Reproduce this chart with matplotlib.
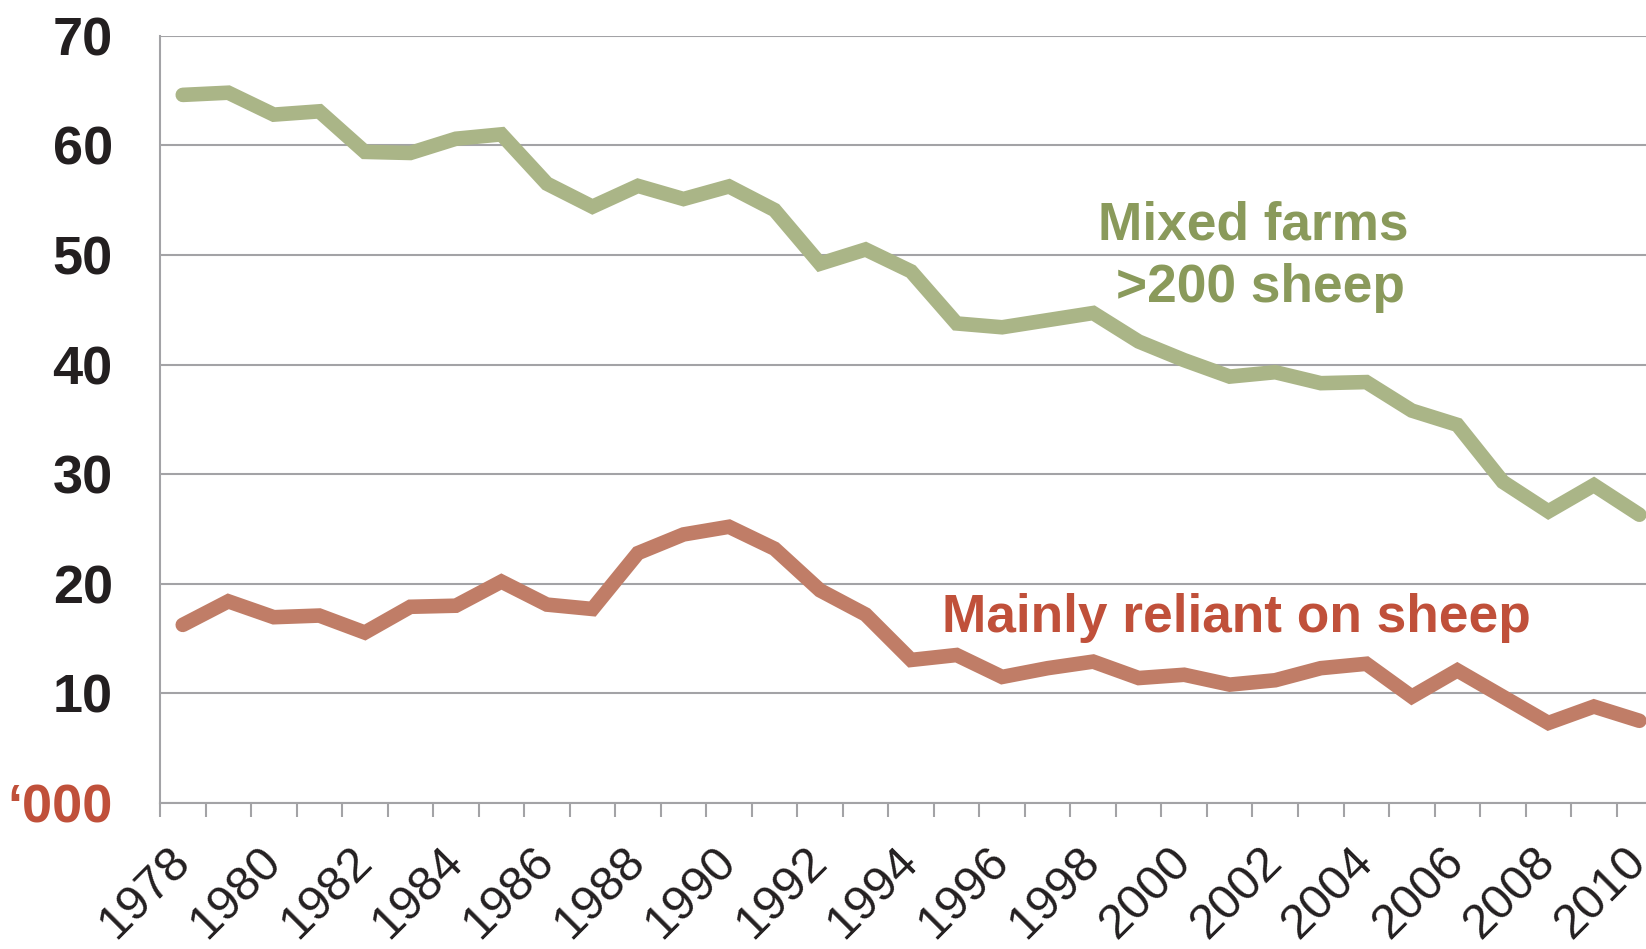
import matplotlib
matplotlib.use("Agg")
import matplotlib.pyplot as plt
import numpy as np

years = list(range(1978, 2011))
mixed_farms = [64.6, 64.8, 62.8, 63.1, 59.4, 59.3, 60.6, 61.0, 56.5, 54.4, 56.3,
               55.1, 56.25, 54.1, 49.2, 50.5, 48.5, 43.75, 43.4, 44.05, 44.7, 42.1,
               40.4, 38.9, 39.3, 38.3, 38.4, 35.8, 34.5, 29.3, 26.6, 29.0, 26.3]
mainly_sheep = [16.25, 18.4, 16.95, 17.1, 15.55, 17.9, 18.0, 20.2, 18.1, 17.7, 22.8,
                24.5, 25.2, 23.2, 19.4, 17.2, 13.05, 13.5, 11.5, 12.3, 12.9, 11.4,
                11.7, 10.8, 11.2, 12.3, 12.7, 9.7, 12.1, 9.7, 7.3, 8.8, 7.5]
y_ticks = [0, 10, 20, 30, 40, 50, 60, 70]
y_ticklabels = ["\u2018000", "10", "20", "30", "40", "50", "60", "70"]
x_labels = [str(y) for y in years[::2]]

GREEN_LINE = "#AAB587"
RED_LINE = "#C07D67"
GREEN_TXT = "#8A9A5B"
RED_TXT = "#C0503A"
GRID = "#A3A3A6"
DARK = "#231F20"

plt.rcParams['font.family'] = ['Liberation Sans', 'DejaVu Sans']

W, H = 1646, 949
fig = plt.figure(figsize=(W / 100, H / 100), dpi=100)
left = 160 / W
bottom = (H - 803) / H
width = (33 * 45.52) / W
height = (803 - 35.7) / H
ax = fig.add_axes([left, bottom, width, height])

x = np.arange(len(years))
ax.plot(x, mixed_farms, color=GREEN_LINE, lw=10.5, solid_capstyle='round',
        solid_joinstyle='miter', zorder=3, clip_on=False)
ax.plot(x, mainly_sheep, color=RED_LINE, lw=10.5, solid_capstyle='round',
        solid_joinstyle='miter', zorder=3, clip_on=False)

ax.set_xlim(-0.5, len(years) - 0.5)
ax.set_ylim(0, 70)

# y axis
ax.set_yticks(y_ticks)
ax.set_yticklabels(y_ticklabels)
ax.tick_params(axis='y', length=0, pad=34, labelsize=39, labelcolor=DARK)
for lbl in ax.get_yticklabels():
    lbl.set_fontweight('bold')
ax.get_yticklabels()[0].set_color(RED_TXT)
ax.yaxis.grid(True, color=GRID, lw=1.5, zorder=0)
ax.set_axisbelow(True)

# x axis: minor ticks at category boundaries, labels at every second category
ax.set_xticks(np.arange(-0.5, len(years), 1.0), minor=True)
ax.set_xticks(x[::2])
ax.set_xticklabels(x_labels)
ax.tick_params(axis='x', which='minor', length=10, width=1.5, color=GRID, direction='out')
ax.tick_params(axis='x', which='major', length=0, pad=37, labelsize=35, labelcolor=DARK)
for lbl in ax.get_xticklabels():
    lbl.set_rotation(45)
    lbl.set_ha('right')
    lbl.set_va('center')
    lbl.set_rotation_mode('anchor')

for s in ['top', 'right']:
    ax.spines[s].set_visible(False)
for s in ['left', 'bottom']:
    ax.spines[s].set_color(GRID)
    ax.spines[s].set_linewidth(1.5)

fig.text(1253 / W, 1 - 240 / H, "Mixed farms", color=GREEN_TXT, fontsize=38.3,
         fontweight='bold', ha='center', va='baseline')
fig.text(1260 / W, 1 - 301.7 / H, ">200 sheep", color=GREEN_TXT, fontsize=38.3,
         fontweight='bold', ha='center', va='baseline')
fig.text(1236 / W, 1 - 632 / H, "Mainly reliant on sheep", color=RED_TXT, fontsize=38.3,
         fontweight='bold', ha='center', va='baseline')

fig.savefig("out.png", dpi=100)
